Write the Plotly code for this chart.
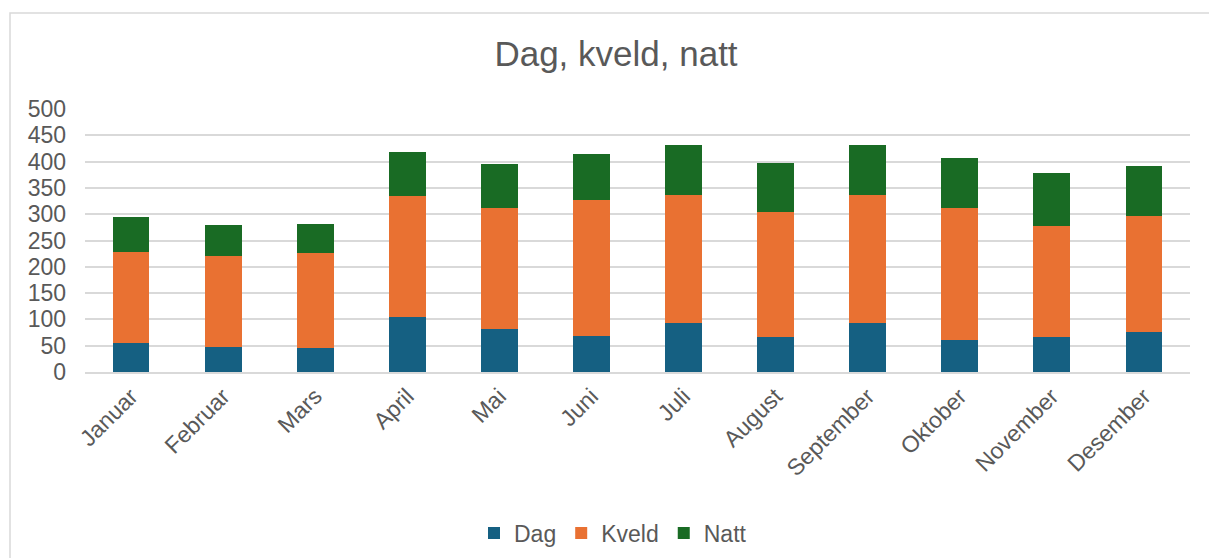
import plotly.graph_objects as go

months = ["Januar", "Februar", "Mars", "April", "Mai", "Juni", "Juli",
          "August", "September", "Oktober", "November", "Desember"]
dag = [56, 48, 45, 105, 81, 69, 94, 67, 94, 60, 67, 77]
kveld = [172, 173, 181, 229, 230, 258, 242, 237, 242, 251, 210, 219]
natt = [66, 58, 55, 85, 84, 87, 95, 93, 95, 95, 101, 95]
y_ticks = [0, 50, 100, 150, 200, 250, 300, 350, 400, 450, 500]

W, H = 1209, 558
L, R, T, B = 85, 19, 109, 186
pw, ph = W - L - R, H - T - B

def px_to_paper_x(px):
    return (px - L) / pw

def px_to_paper_y(py):
    return (H - B - py) / ph

font_family = "Liberation Sans, Arial, sans-serif"
grey = "#595959"

fig = go.Figure()
for name, vals, col in [("Dag", dag, "#156082"), ("Kveld", kveld, "#E97132"),
                        ("Natt", natt, "#196B24")]:
    fig.add_trace(go.Bar(name=name, x=months, y=vals, marker_color=col,
                         marker_line_width=0))

fig.update_layout(
    width=W, height=H,
    margin=dict(l=L, r=R, t=T, b=B, autoexpand=False),
    barmode="stack",
    bargap=0.6,
    paper_bgcolor="white",
    plot_bgcolor="white",
    font=dict(family=font_family, color=grey, size=23),
    title=dict(text="Dag, kveld, natt", x=616 / W, xanchor="center",
               y=1 - 54 / H, yanchor="middle",
               font=dict(size=35, color=grey, family=font_family)),
    xaxis=dict(tickangle=-45, showgrid=False, showline=True,
               linecolor="#d9d9d9", linewidth=1.5, automargin=False,
               tickfont=dict(size=23, color=grey)),
    yaxis=dict(range=[0, 500], tickvals=y_ticks, showgrid=True,
               gridcolor="#d9d9d9", gridwidth=1.5, zeroline=False,
               showline=False, ticklabelstandoff=18, automargin=False,
               tickfont=dict(size=23, color=grey)),
    legend=dict(orientation="h", x=px_to_paper_x(613), xanchor="center",
                y=px_to_paper_y(533), yanchor="middle", traceorder="normal",
                font=dict(size=23, color=grey), itemclick=False),
    showlegend=True,
)

fig.add_shape(type="rect", xref="paper", yref="paper",
              x0=px_to_paper_x(10), x1=px_to_paper_x(1230),
              y0=px_to_paper_y(600), y1=px_to_paper_y(13),
              line=dict(color="#d9d9d9", width=1.5), fillcolor="rgba(0,0,0,0)",
              layer="below")

fig.write_html("out.html", config={"displayModeBar": False},
               post_script="document.body.style.margin='0';document.body.style.padding='0';")
